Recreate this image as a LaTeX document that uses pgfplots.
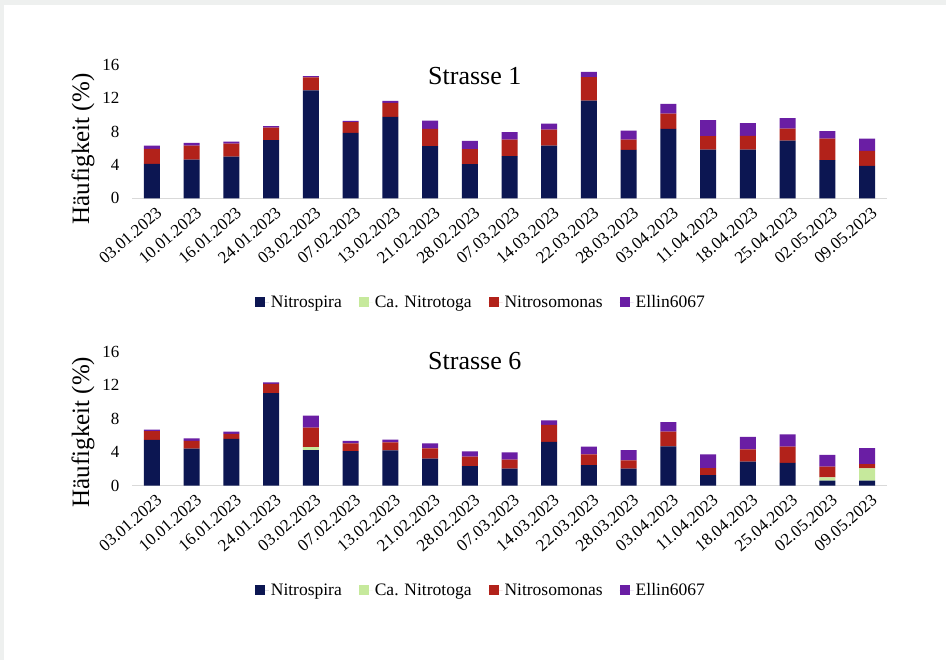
\documentclass[border=0pt]{standalone}
\usepackage{pgfplots}
\pgfplotsset{compat=1.18}
\usepackage{pgfplotstable}
\usepackage{fontspec}
\setmainfont{Liberation Serif}
\definecolor{cNitrospira}{RGB}{12,22,82}
\definecolor{cNitrotoga}{RGB}{198,233,156}
\definecolor{cNitrosomonas}{RGB}{178,34,26}
\definecolor{cEllin}{RGB}{106,30,164}
\definecolor{bggray}{RGB}{238,240,239}

\pgfplotstableread{
x N C R P
0 4.12 0 1.80 0.40
1 4.64 0 1.68 0.32
2 5.00 0 1.56 0.24
3 6.96 0 1.52 0.16
4 12.92 0 1.56 0.16
5 7.84 0 1.28 0.16
6 9.76 0 1.68 0.24
7 6.24 0 2.08 1.00
8 4.08 0 1.80 1.00
9 5.04 0 2.00 0.88
10 6.32 0 1.92 0.72
11 11.72 0 2.80 0.64
12 5.80 0 1.24 1.08
13 8.32 0 1.84 1.16
14 5.84 0 1.60 1.92
15 5.84 0 1.64 1.52
16 6.92 0 1.44 1.24
17 4.56 0 2.60 0.88
18 3.88 0 1.80 1.48
}\strasseA

\pgfplotstableread{
x N C R P
0 5.46 0 1.07 0.16
1 4.42 0 0.92 0.32
2 5.58 0 0.60 0.27
3 11.04 0 1.11 0.20
4 4.26 0.36 2.31 1.44
5 4.14 0 0.92 0.28
6 4.22 0 0.96 0.32
7 3.23 0 1.23 0.60
8 2.35 0 1.12 0.63
9 2.03 0 1.07 0.88
10 5.22 0 2.03 0.55
11 2.47 0 1.28 0.91
12 2.03 0 1.00 1.23
13 4.70 0 1.75 1.15
14 1.27 0 0.84 1.64
15 2.87 0 1.47 1.48
16 2.71 0 1.95 1.48
17 0.60 0.40 1.27 1.40
18 0.60 1.47 0.52 1.91
}\strasseB

\pgfplotsset{
  strassestyle/.style={
    scale only axis,
    width=755pt, height=133.5pt,
    anchor=south west,
    ybar stacked, bar width=16pt,
    xmin=-0.5, xmax=18.5,
    ymin=0, ymax=16,
    ytick={0,4,8,12,16},
    xtick={0,...,18},
    xticklabels={03.01.2023,10.01.2023,16.01.2023,24.01.2023,03.02.2023,07.02.2023,13.02.2023,21.02.2023,28.02.2023,07.03.2023,14.03.2023,22.03.2023,28.03.2023,03.04.2023,11.04.2023,18.04.2023,25.04.2023,02.05.2023,09.05.2023},
    xticklabel style={rotate=41, anchor=east, font=\fontsize{17}{17}\selectfont, yshift=-14pt, xshift=1pt},
    yticklabel style={font=\fontsize{17}{17}\selectfont, xshift=-9pt},
    /pgf/number format/assume math mode=true,
    major tick length=0pt,
    separate axis lines,
    axis x line*=bottom,
    axis y line*=left,
    x axis line style={draw=black!15, line width=0.8pt, -},
    y axis line style={draw=none},
    ylabel={Häufigkeit (\%)},
    ylabel style={font=\fontsize{25}{25}\selectfont},
    legend columns=4,
    legend cell align=left,
    legend image code/.code={\fill[#1] (0pt,-5pt) rectangle (10pt,5pt); \path (0pt,0pt) -- (14pt,0pt);},
    legend style={draw=none, fill=none, font=\fontsize{17.5}{17.5}\selectfont,
      /tikz/every even column/.append style={column sep=15pt}},
    clip=false,
  }
}

\begin{document}
\begin{tikzpicture}[x=1pt,y=1pt]
\fill[bggray] (0,0) rectangle (946,660);
\fill[white] (4,0) rectangle (946,655);
\useasboundingbox (0,0) rectangle (946,660);

\begin{axis}[strassestyle, at={(132pt,461.7pt)},
  ylabel style={at={(axis description cs:-0.065,0.37)}, anchor=center},
  legend style={at={(0.462,-0.778)}, anchor=center}]
\addplot[fill=cNitrospira, draw=none] table[x=x,y=N]{\strasseA};
\addplot[fill=cNitrotoga, draw=none] table[x=x,y=C]{\strasseA};
\addplot[fill=cNitrosomonas, draw=none] table[x=x,y=R]{\strasseA};
\addplot[fill=cEllin, draw=none] table[x=x,y=P]{\strasseA};
\legend{Nitrospira,Ca. Nitrotoga,Nitrosomonas,Ellin6067}
\node[font=\fontsize{26}{26}\selectfont] at (rel axis cs:0.454,0.917) {Strasse 1};
\end{axis}

\begin{axis}[strassestyle, at={(132pt,174.3pt)}, height=134pt,
  ylabel style={at={(axis description cs:-0.065,0.40)}, anchor=center},
  legend style={at={(0.462,-0.78)}, anchor=center}]
\addplot[fill=cNitrospira, draw=none] table[x=x,y=N]{\strasseB};
\addplot[fill=cNitrotoga, draw=none] table[x=x,y=C]{\strasseB};
\addplot[fill=cNitrosomonas, draw=none] table[x=x,y=R]{\strasseB};
\addplot[fill=cEllin, draw=none] table[x=x,y=P]{\strasseB};
\legend{Nitrospira,Ca. Nitrotoga,Nitrosomonas,Ellin6067}
\node[font=\fontsize{26}{26}\selectfont] at (rel axis cs:0.454,0.93) {Strasse 6};
\end{axis}
\end{tikzpicture}
\end{document}
